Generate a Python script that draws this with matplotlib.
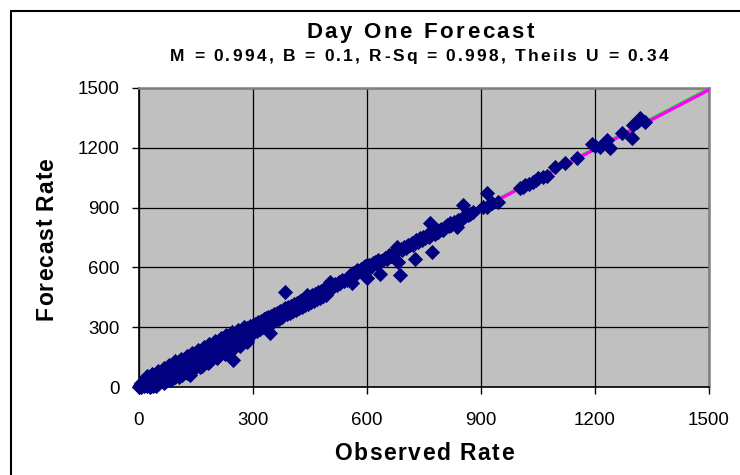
"""
Day One Forecast - observed vs forecast rate scatter (Excel style)
"""
import matplotlib
matplotlib.use('Agg')
import matplotlib.pyplot as plt
from matplotlib.patches import Rectangle
from matplotlib.font_manager import FontProperties, findfont, get_font

# observed / forecast pairs
observed = [
    0, 2, 3, 5, 6, 8, 10, 12, 14, 15, 18, 20, 22, 25, 26, 28, 30, 32, 35, 36,
    38, 40, 42, 45, 46, 48, 50, 52, 55, 56, 58, 60, 62, 64, 66, 68, 70, 72, 74, 76,
    78, 80, 82, 84, 86, 88, 90, 92, 94, 96, 98, 100,
    102, 104, 106, 108, 110, 112, 115, 117, 120, 122, 125, 128, 130, 133, 135, 137, 140, 142,
    145, 148, 150, 153, 155, 158, 160, 162, 165, 168, 170, 172, 175, 178, 180, 182, 185, 188,
    190, 192, 195, 198, 200, 203, 205, 208, 210, 212, 215, 218, 220, 222, 225, 228, 230, 232,
    235, 238, 240, 242, 245, 248, 248, 250, 252, 255, 258, 260, 262, 265, 268, 270, 272, 275,
    278, 280, 283, 285, 288, 290, 292, 295, 298, 300,
    # upper and lower edge of the dense band
    20, 35, 50, 65, 80, 95, 110, 125, 140, 155, 170, 185, 200, 215, 230, 245, 260, 275,
    30, 45, 65, 85, 105, 125, 145, 165, 185, 205, 225, 245, 265, 285,
    302, 305, 308, 310, 312, 315, 318, 320, 322, 325, 328, 330, 333, 335, 338, 340, 345, 345,
    348, 350, 352, 355, 358, 360, 362, 365, 368, 370, 372, 375, 378, 380, 384, 385, 388, 390,
    392, 395, 398, 400, 403, 405, 408, 410, 413, 415, 418, 420, 423, 425, 428, 430, 433, 436,
    438, 441, 443, 446, 448, 450, 453, 455, 458, 460, 463, 466, 468, 470, 473, 476, 478, 481,
    484, 486, 490, 493, 496, 500, 503, 505, 510, 515, 520, 525, 530, 535, 540, 547, 550, 555,
    560, 562, 564, 568, 573, 578, 583, 588, 592, 595, 599, 599,
    605, 610, 617, 620, 625, 630, 634, 638, 643, 648, 652, 658, 663, 668, 672, 678, 682, 687,
    690, 693, 698, 703, 708, 713, 718, 722, 726, 730, 735, 740, 744, 748, 752, 758, 762, 766,
    770, 772, 778, 783, 788, 792, 796, 800, 805, 810, 815, 818, 822, 828, 832, 836, 840, 845,
    850, 853, 858, 865, 872, 880,
    905, 915, 915, 928, 946, 1003, 1010, 1016, 1025, 1038, 1045, 1051, 1062, 1073, 1095, 1121,
    1152, 1191, 1200, 1213, 1231, 1239, 1270, 1297, 1301, 1310, 1318, 1332,
]
forecast = [
    0, 5, 12, 2, 20, 8, 15, 4, 25, 10, 30, 14, 6, 35, 22, 12, 40, 28, 18, 48,
    5, 33, 55, 25, 42, 60, 15, 38, 65, 48, 28, 70, 52, 40, 80, 58, 30, 85, 62, 45,
    90, 70, 50, 100, 76, 60, 105, 82, 48, 112, 88, 70,
    118, 95, 80, 125, 102, 62, 132, 108, 90, 140, 115, 98, 150, 125, 60, 105, 158, 132,
    112, 165, 140, 125, 172, 148, 100, 180, 155, 135, 188, 162, 145, 195, 170, 120, 202, 178,
    158, 210, 185, 165, 218, 192, 175, 225, 200, 182, 232, 208, 190, 240, 215, 198, 248, 222,
    205, 255, 230, 212, 262, 238, 135, 220, 268, 245, 228, 275, 252, 238, 282, 260, 245, 290,
    265, 252, 236, 298, 272, 260, 305, 280, 268, 312,
    55, 65, 82, 95, 112, 128, 142, 158, 172, 188, 202, 218, 232, 246, 260, 275, 288, 302,
    0, 5, 20, 35, 50, 70, 88, 105, 125, 145, 165, 185, 205, 228,
    290, 318, 298, 282, 325, 305, 292, 332, 312, 300, 340, 320, 345, 328, 312, 350, 272, 335,
    358, 342, 325, 365, 348, 335, 372, 355, 340, 380, 362, 350, 388, 370, 478, 395, 378, 365,
    402, 385, 372, 408, 392, 380, 415, 400, 388, 422, 408, 395, 430, 415, 402, 438, 422, 410,
    445, 462, 430, 418, 452, 438, 425, 460, 445, 432, 468, 452, 440, 475, 460, 448, 482, 468,
    455, 490, 475, 462, 498, 485, 528, 492, 505, 515, 510, 525, 520, 535, 530, 537, 548, 560,
    520, 570, 553, 565, 587, 580, 592, 585, 600, 605, 545, 612,
    610, 602, 620, 625, 618, 635, 565, 630, 637, 648, 640, 660, 655, 672, 665, 704, 629, 562,
    692, 685, 700, 695, 712, 712, 720, 710, 640, 735, 728, 745, 738, 754, 748, 765, 755, 821,
    679, 775, 768, 788, 780, 788, 795, 790, 805, 813, 808, 821, 815, 828, 822, 804, 840, 835,
    850, 913, 858, 865, 870, 880,
    905, 975, 905, 921, 930, 997, 1005, 1013, 1020, 1030, 1040, 1047, 1055, 1059, 1105, 1122,
    1147, 1217, 1210, 1205, 1239, 1197, 1276, 1248, 1314, 1330, 1348, 1331,
]

# regression stats from the subtitle
slope = 0.994
intercept = 0.1
line_x = [0, 1500]
fit_y = [slope * v + intercept for v in line_x]
ticks = [0, 300, 600, 900, 1200, 1500]

W, H = 740, 475
FONT = 'Liberation Sans'


def tracked(fig, s, center, base, size, width, vertical=False):
    """Draw bold text with Excel-like letter spacing to a given pixel width"""
    fp = FontProperties(family=FONT, weight='bold', size=size)
    font = get_font(findfont(fp))
    font.set_size(size, fig.dpi)
    adv = [font.load_char(ord(c)).linearHoriAdvance / 65536 for c in s]
    gap = (width - sum(adv)) / (len(s) - 1)
    off = -width / 2
    for c, a in zip(s, adv):
        if vertical:
            # text runs upward, baseline on the right
            fig.text(base / W, 1 - (center - off) / H, c, fontproperties=fp,
                     rotation=90, rotation_mode='anchor',
                     ha='left', va='baseline')
        else:
            fig.text((center + off) / W, 1 - base / H, c, fontproperties=fp,
                     ha='left', va='baseline')
        off += a + gap


fig = plt.figure(figsize=(7.4, 4.75), dpi=100)
fig.patch.set_facecolor('white')

ax = fig.add_axes([139 / W, 1 - 387 / H, 570 / W, 299 / H])
ax.set_facecolor('#C0C0C0')

ax.plot(line_x, line_x, color='#00FF00', linewidth=1.6, zorder=2)
ax.plot(line_x, fit_y, color='#FF00FF', linewidth=2.4, zorder=3)
ax.scatter(observed, forecast, marker='D', s=60, color='#000080',
           linewidths=0, zorder=4, clip_on=False)

ax.set_xlim(0, 1500)
ax.set_ylim(0, 1500)
ax.set_xticks(ticks)
ax.set_yticks(ticks)
ax.grid(True, color='black', linewidth=0.9)
ax.set_axisbelow(True)
ax.tick_params(direction='out', length=5, width=1, color='black',
               labelsize=13.5, labelcolor='black')
ax.tick_params(axis='x', pad=13)
ax.tick_params(axis='y', pad=9)
for lab in ax.get_xticklabels() + ax.get_yticklabels():
    lab.set_fontfamily(FONT)

for side in ['left', 'bottom']:
    ax.spines[side].set_color('black')
    ax.spines[side].set_linewidth(1.2)
for side in ['top', 'right']:
    ax.spines[side].set_color('#808080')
    ax.spines[side].set_linewidth(1.8)

# chart frame
fig.add_artist(Rectangle((11 / W, -0.1), 1.2, 1 - 11 / H + 0.1,
                         transform=fig.transFigure, fill=False,
                         edgecolor='black', linewidth=1.5))

tracked(fig, 'Day One Forecast', 420, 38, 16, 228)
tracked(fig, 'M = 0.994, B = 0.1, R-Sq = 0.998, Theils U = 0.34', 419, 61, 12.5, 498)
tracked(fig, 'Observed Rate', 424, 460, 16.5, 179)
tracked(fig, 'Forecast Rate', 239, 53, 16.5, 162, vertical=True)

fig.savefig('out.png', dpi=100)
